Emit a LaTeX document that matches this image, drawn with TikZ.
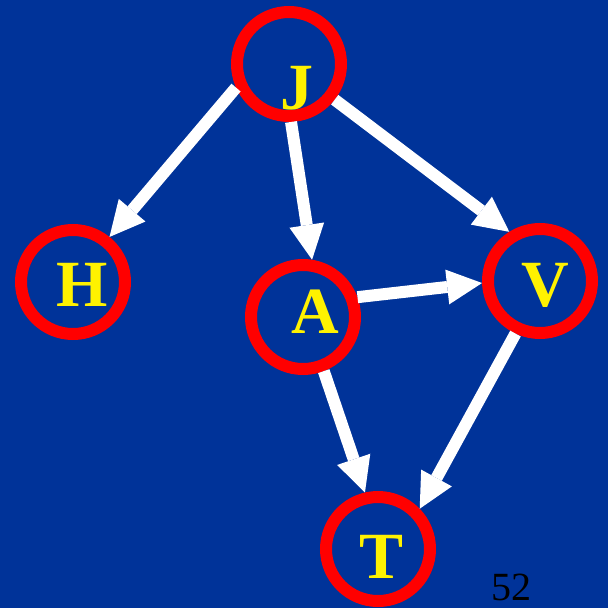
\documentclass[tikz,border=0pt]{standalone}
\usepackage{fontspec}
\setmainfont{Liberation Serif}
\usepackage{xcolor}
\usepackage{tikz}
\usetikzlibrary{arrows.meta}
\definecolor{azulFundo}{RGB}{0,51,153}
\tikzset{
    vertice/.style={
        circle,
        draw=red,
        line width=12pt,
        minimum size=104pt,
        inner sep=0pt
    },
    letra/.style={
        text=yellow,
        font=\fontsize{66}{66}\selectfont\bfseries,
        inner sep=0pt
    },
    aresta/.style={
        -{Triangle[length=35pt, width=35pt, line width=0pt]},
        draw=white,
        line width=12pt
    },
    pagina/.style={font=\fontsize{40}{40}\selectfont, text=black, inner sep=0pt}
}

\begin{document}
\begin{tikzpicture}[x=1pt, y=-1pt]
    \fill[azulFundo] (0,0) rectangle (608,608);

    \node[vertice] (J) at (289,64) {};
    \node[vertice] (H) at (73,282) {};
    \node[vertice] (A) at (303,317) {};
    \node[vertice] (V) at (540,281) {};
    \node[vertice] (T) at (378,549) {};

    \node[letra] (letraJ) at (297,88) {J};
    \node[letra] (letraH) at (82,285) {H};
    \node[letra] (letraA) at (315,312) {A};
    \node[letra] (letraV) at (545,285) {V};
    \node[letra] (letraT) at (382,557) {T};

    \draw[aresta] (J.204) -- (H.51);
    \draw[aresta] (J.272) -- (A.81);
    \draw[aresta] (J.322) -- (V.122);
    \draw[aresta] (A.20) -- (V.182);
    \draw[aresta] (A.291) -- (T.103);
    \draw[aresta] (V.245) -- (T.44);

    \node[pagina] (numero) at (511,587) {52};
\end{tikzpicture}
\end{document}
